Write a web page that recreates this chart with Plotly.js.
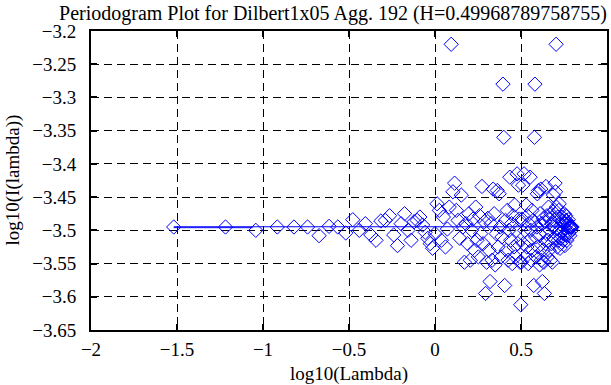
<!DOCTYPE html>
<html>
<head>
<meta charset="utf-8">
<script src="https://cdn.plot.ly/plotly-3.0.1.min.js"></script>
<style>html,body{margin:0;padding:0;background:#fff;}#chart{width:611px;height:385px;}</style>
</head>
<body>
<div id="chart"></div>
<script>
// log10(Lambda) of each periodogram ordinate
var logLambda = [-1.519,-1.218,-1.042,-0.917,-0.820,-0.741,-0.674,-0.616,-0.565,-0.519,
-0.478,-0.440,-0.405,-0.373,-0.343,-0.315,-0.289,-0.264,-0.240,-0.218,
-0.197,-0.177,-0.157,-0.139,-0.121,-0.104,-0.088,-0.072,-0.057,-0.042,
-0.028,-0.014,0.000,0.012,0.025,0.037,0.049,0.061,0.072,0.083,
0.094,0.104,0.114,0.124,0.134,0.144,0.153,0.162,0.171,0.180,
0.189,0.197,0.205,0.213,0.221,0.229,0.237,0.244,0.252,0.259,
0.266,0.273,0.280,0.287,0.294,0.300,0.307,0.314,0.320,0.326,
0.332,0.338,0.344,0.350,0.356,0.362,0.367,0.373,0.379,0.384,
0.389,0.395,0.400,0.405,0.410,0.415,0.420,0.425,0.430,0.435,
0.440,0.445,0.449,0.454,0.459,0.463,0.468,0.472,0.477,0.481,
0.485,0.490,0.494,0.498,0.502,0.506,0.510,0.514,0.518,0.522,
0.526,0.530,0.534,0.538,0.542,0.545,0.549,0.553,0.557,0.560,
0.564,0.567,0.571,0.574,0.578,0.581,0.585,0.588,0.592,0.595,
0.598,0.602,0.605,0.608,0.611,0.615,0.618,0.621,0.624,0.627,
0.630,0.633,0.636,0.639,0.642,0.645,0.648,0.651,0.654,0.657,
0.660,0.663,0.666,0.669,0.671,0.674,0.677,0.680,0.682,0.685,
0.688,0.691,0.693,0.696,0.698,0.701,0.704,0.706,0.709,0.711,
0.714,0.717,0.719,0.722,0.724,0.727,0.729,0.731,0.734,0.736,
0.739,0.741,0.743,0.746,0.748,0.751,0.753,0.755,0.757,0.760,
0.762,0.764,0.767,0.769,0.771,0.773,0.775,0.778,0.780,0.782,
0.784,0.786,0.789,0.791,0.793,0.795,0.797];

// log10(I(lambda))
var logI = [-3.495,-3.495,-3.500,-3.495,-3.495,-3.495,-3.508,-3.494,-3.495,-3.504,
-3.484,-3.500,-3.490,-3.507,-3.515,-3.486,-3.485,-3.478,-3.507,-3.523,
-3.490,-3.475,-3.500,-3.515,-3.487,-3.485,-3.480,-3.492,-3.503,-3.512,
-3.520,-3.527,-3.505,-3.460,-3.470,-3.515,-3.480,-3.525,-3.498,-3.465,
-3.220,-3.442,-3.429,-3.470,-3.485,-3.512,-3.447,-3.495,-3.548,-3.490,
-3.520,-3.475,-3.545,-3.500,-3.483,-3.530,-3.465,-3.515,-3.540,-3.478,
-3.505,-3.434,-3.520,-3.487,-3.595,-3.548,-3.482,-3.530,-3.577,-3.490,
-3.545,-3.438,-3.475,-3.552,-3.505,-3.440,-3.525,-3.445,-3.495,-3.540,
-3.510,-3.280,-3.360,-3.583,-3.485,-3.530,-3.470,-3.545,-3.500,-3.420,
-3.515,-3.490,-3.550,-3.478,-3.525,-3.462,-3.540,-3.500,-3.415,-3.520,
-3.432,-3.483,-3.548,-3.612,-3.548,-3.483,-3.432,-3.520,-3.415,-3.500,
-3.540,-3.462,-3.525,-3.478,-3.550,-3.490,-3.515,-3.420,-3.500,-3.545,
-3.470,-3.530,-3.485,-3.583,-3.360,-3.280,-3.510,-3.540,-3.495,-3.445,
-3.525,-3.440,-3.505,-3.552,-3.475,-3.438,-3.545,-3.490,-3.577,-3.530,
-3.482,-3.548,-3.595,-3.487,-3.520,-3.434,-3.505,-3.478,-3.540,-3.515,
-3.465,-3.530,-3.483,-3.500,-3.545,-3.475,-3.520,-3.490,-3.548,-3.495,
-3.447,-3.512,-3.485,-3.470,-3.429,-3.442,-3.220,-3.465,-3.498,-3.525,
-3.480,-3.515,-3.470,-3.460,-3.505,-3.527,-3.520,-3.512,-3.503,-3.492,
-3.480,-3.485,-3.487,-3.515,-3.500,-3.475,-3.490,-3.523,-3.507,-3.478,
-3.485,-3.486,-3.515,-3.507,-3.490,-3.500,-3.484,-3.504,-3.495,-3.494,
-3.508,-3.495,-3.495,-3.495,-3.500,-3.495,-3.495];

// fitted lines (endpoints)
var fitX = [-1.519, 0.797];
var fitY = [-3.4946, -3.4946];
var lowFitX = [-1.519, -1.06];
var lowFitY = [-3.4960, -3.4960];

var xTicks = [-2, -1.5, -1, -0.5, 0, 0.5, 1];
var yTicks = [-3.65, -3.6, -3.55, -3.5, -3.45, -3.4, -3.35, -3.3, -3.25, -3.2];

var titleText = 'Periodogram Plot for Dilbert1x05 Agg. 192 (H=0.49968789758755)';
var xTitle = 'log10(Lambda)';
var yTitle = 'log10(I(lambda))';

var font = '"Liberation Serif", "Times New Roman", serif';

function fmt(v) { return (v < 0 ? '\u2212' : '') + Math.abs(v); }

var traces = [
  {x: logLambda, y: logI, type: 'scatter', mode: 'markers',
   marker: {symbol: 'diamond-open', size: 11, color: '#0000ff', line: {width: 1, color: '#0000ff'}}},
  {x: fitX, y: fitY, type: 'scatter', mode: 'lines', line: {color: '#0000ff', width: 1}},
  {x: lowFitX, y: lowFitY, type: 'scatter', mode: 'lines', line: {color: '#0000ff', width: 1}}
];

var axisCommon = {
  showline: true, linecolor: '#000', linewidth: 2, mirror: 'ticks',
  ticks: 'inside', ticklen: 6, tickwidth: 2, tickcolor: '#000',
  showgrid: true, gridcolor: '#000', gridwidth: 1, griddash: '8px,5px',
  zeroline: false, tickfont: {family: font, size: 19, color: '#000'}
};

var layout = {
  width: 611, height: 385,
  font: {family: font, size: 19, color: '#000'},
  margin: {l: 91, r: 4, t: 31, b: 55},
  paper_bgcolor: '#fff', plot_bgcolor: '#fff',
  showlegend: false,
  title: {text: titleText, font: {family: font, size: 20, color: '#000'}, x: 0.545, xanchor: 'center', y: 0.984, yanchor: 'top'},
  xaxis: Object.assign({}, axisCommon, {
    range: [-2, 1], tickvals: xTicks, ticktext: xTicks.map(fmt), ticklabelstandoff: 1,
    title: {text: xTitle, font: {family: font, size: 19, color: '#000'}, standoff: 10}
  }),
  yaxis: Object.assign({}, axisCommon, {
    range: [-3.65, -3.2], tickvals: yTicks, ticktext: yTicks.map(fmt), ticklabelstandoff: 9
  }),
  annotations: [{
    text: yTitle, textangle: -90, xref: 'paper', yref: 'paper',
    x: -0.153, y: 0.5, xanchor: 'center', yanchor: 'middle', showarrow: false,
    font: {family: font, size: 19, color: '#000'}
  }]
};

Plotly.newPlot('chart', traces, layout, {displayModeBar: false, staticPlot: true});
</script>
</body>
</html>
